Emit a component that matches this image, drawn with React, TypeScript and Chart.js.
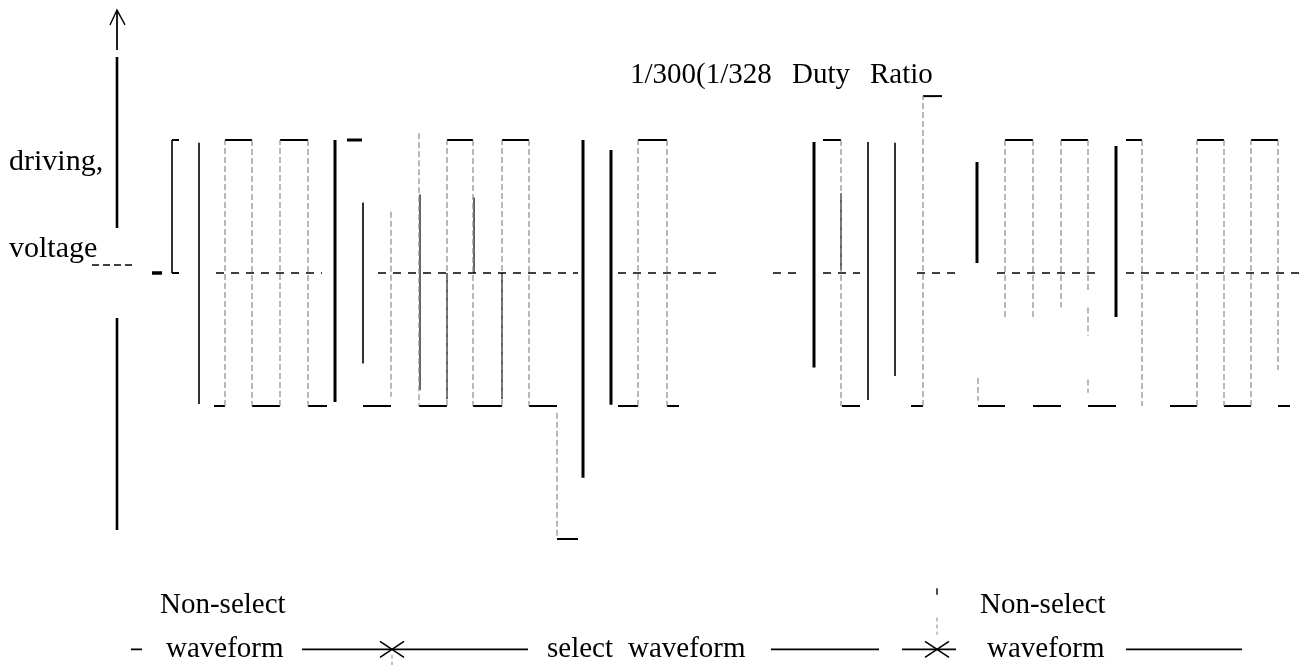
import { useEffect, useRef } from "react";
import { Chart, registerables } from "chart.js";

Chart.register(...registerables);

// ---- frame ----
const WIDTH = 1310;
const HEIGHT = 665;
const T_MIN = 0;
const T_MAX = 1310;
// voltage unit: 0 V line sits 273px from top, 133px per unit
const V_MAX = 273 / 133;
const V_MIN = (273 - 665) / 133;

// ---- voltage levels ----
const HIGH = 1;
const ZERO = 0;
const LOW = -1;
const SEL_HIGH = 1.33;
const SEL_LOW = -2;
const ANNOT = -2.83;

// ---- waveform runs (time from, time to) ----
const highRuns = [[225, 252], [280, 308], [447, 473], [502, 529], [638, 667], [823, 841], [1005, 1033], [1061, 1088], [1126, 1142], [1197, 1224], [1251, 1278]];
const lowRuns = [[214, 225], [252, 280], [308, 327], [363, 391], [419, 447], [473, 502], [529, 557], [618, 638], [667, 679], [842, 860], [911, 923], [978, 1005], [1033, 1061], [1088, 1116], [1170, 1197], [1224, 1251], [1278, 1290]];
const selHighRuns = [[923, 942]];
const selLowRuns = [[557, 578]];
const topMarks = [[347, 362]];
const bracketSerifs = [[172, 179, HIGH], [172, 179, ZERO]];
const zeroDashRuns = [[216, 322], [378, 578], [618, 722], [773, 798], [823, 860], [917, 957], [997, 1102], [1126, 1305]];
const legendDashRuns = [[92, 133, 0.06]];
const dotMarks = [[152, 162]];

// ---- vertical edges (time, from V, to V) ----
const greyEdges = [
  [225, LOW, HIGH], [252, HIGH, LOW], [280, LOW, HIGH], [308, HIGH, LOW],
  [391, 0.46, -0.93], [419, 1.05, LOW], [447, LOW, HIGH], [473, HIGH, LOW], [502, LOW, HIGH], [529, HIGH, LOW], [557, -1.05, SEL_LOW],
  [638, LOW, HIGH], [667, HIGH, LOW], [841, HIGH, LOW], [923, LOW, SEL_HIGH], [978, -0.79, -0.96],
  [1005, HIGH, -0.34], [1033, HIGH, -0.34], [1061, HIGH, -0.26], [1088, HIGH, -0.15], [1088, -0.26, -0.47], [1088, -0.8, -0.9],
  [1142, HIGH, LOW], [1197, LOW, HIGH], [1224, HIGH, LOW], [1251, LOW, HIGH], [1278, HIGH, -0.73],
];
const darkEdges = [[420, 0.59, -0.88], [474, 0.57, 0], [447, 0, -0.95], [502, 0, -0.95], [841, 0.6, 0.02]];
const thickBars = [[335, 1, -0.97], [583, 1, -1.54], [611, 0.925, -0.99], [814, 0.985, -0.71], [977, 0.835, 0.075], [1116, 0.955, -0.33]];
const thinBars = [[172, 1, 0], [199, 0.98, -0.985], [363, 0.53, -0.68], [868, 0.985, -0.955], [895, 0.98, -0.775]];

// ---- vertical axis ----
const axisT = 117;
const axisThick = [[1.624, 0.338], [-0.338, -1.932]];
const axisThin = [[1.977, 1.677]];
const arrowHead = [[110, 1.865], [117, 1.977], [125, 1.865]];

// ---- bottom annotation ----
const annotRuns = [[131, 142], [302, 528], [771, 879], [902, 956], [1126, 1242]];
const crossCentres = [392, 937];
const annotTicks = [[937, -2.37, -2.42, "#000"], [937, -2.59, -2.72, "#999"], [392, -2.87, -2.95, "#999"]];

// ---- text labels (text, time, V, size) ----
const labels: [string, number, number, number][] = [
  ["1/300(1/328", 630, 1.43, 29],
  ["Duty", 792, 1.43, 29],
  ["Ratio", 870, 1.43, 29],
  ["driving,", 9, 0.774, 30],
  ["voltage", 9, 0.12, 30],
  ["Non-select", 160, -2.556, 29],
  ["waveform", 166, -2.887, 29],
  ["select", 547, -2.887, 29],
  ["waveform", 628, -2.887, 29],
  ["Non-select", 980, -2.556, 29],
  ["waveform", 987, -2.887, 29],
];

type P = { x: number; y: number | null };

function runsAt(runs: number[][], level: number): P[] {
  const out: P[] = [];
  for (const [a, b] of runs) {
    out.push({ x: a, y: level }, { x: b, y: level }, { x: b, y: null });
  }
  return out;
}
function runsOwnLevel(runs: number[][]): P[] {
  const out: P[] = [];
  for (const [a, b, l] of runs) {
    out.push({ x: a, y: l }, { x: b, y: l }, { x: b, y: null });
  }
  return out;
}
function verticals(list: (number | string)[][]): P[] {
  const out: P[] = [];
  for (const [t, a, b] of list) {
    out.push({ x: t as number, y: a as number }, { x: t as number, y: b as number }, { x: t as number, y: null });
  }
  return out;
}
function crosses(centres: number[]): P[] {
  const out: P[] = [];
  for (const c of centres) {
    out.push({ x: c - 12, y: ANNOT + 0.06 }, { x: c + 12, y: ANNOT - 0.06 }, { x: c, y: null });
    out.push({ x: c - 12, y: ANNOT - 0.06 }, { x: c + 12, y: ANNOT + 0.06 }, { x: c, y: null });
  }
  return out;
}

function ds(data: P[], color: string, width: number, dash: number[] = []) {
  return {
    data,
    showLine: true,
    borderColor: color,
    backgroundColor: color,
    borderWidth: width,
    borderDash: dash,
    pointRadius: 0,
    pointHoverRadius: 0,
    spanGaps: false,
    tension: 0,
    fill: false,
    borderCapStyle: "butt" as const,
  };
}

const textPlugin = {
  id: "figureTexts",
  afterDraw(chart: any) {
    const { ctx } = chart;
    const xs = chart.scales.x;
    const ys = chart.scales.y;
    ctx.save();
    ctx.fillStyle = "#000";
    ctx.textBaseline = "alphabetic";
    ctx.textAlign = "left";
    for (const [t, tx, ty, size] of labels) {
      ctx.font = `${size}px "Liberation Serif", "Times New Roman", serif`;
      ctx.fillText(t, xs.getPixelForValue(tx), ys.getPixelForValue(ty));
    }
    ctx.restore();
  },
};

export default function App() {
  const ref = useRef<HTMLCanvasElement | null>(null);
  useEffect(() => {
    if (!ref.current) return;
    const annotTickData: P[] = [];
    const chart = new Chart(ref.current, {
      type: "scatter",
      data: {
        datasets: [
          ds(greyEdges.length ? verticals(greyEdges) : [], "#8a8a8a", 1.2, [6, 3]),
          ds(verticals(annotTicks.filter((a) => a[3] === "#999")), "#999", 1.2, [4, 3]),
          ds(zeroDashRuns.length ? runsAt(zeroDashRuns, ZERO) : [], "#000", 1.6, [8, 7]),
          ds(runsOwnLevel(legendDashRuns), "#000", 1.4, [7, 4]),
          ds(runsAt(dotMarks, ZERO), "#000", 3.5),
          ds(runsAt(highRuns, HIGH), "#000", 2),
          ds(runsAt(lowRuns, LOW), "#000", 2),
          ds(runsAt(selHighRuns, SEL_HIGH), "#000", 2),
          ds(runsAt(selLowRuns, SEL_LOW), "#000", 2),
          ds(runsAt(topMarks, HIGH), "#000", 3),
          ds(runsOwnLevel(bracketSerifs), "#000", 2),
          ds(verticals(darkEdges), "#222", 1.4),
          ds(verticals(thickBars), "#000", 3),
          ds(verticals(thinBars), "#000", 1.6),
          ds(verticals(axisThick.map(([a, b]) => [axisT, a, b])), "#000", 2.6),
          ds(verticals(axisThin.map(([a, b]) => [axisT, a, b])), "#000", 1),
          ds(arrowHead.map(([x, y]) => ({ x, y })), "#000", 1.4),
          ds(runsAt(annotRuns, ANNOT), "#000", 1.8),
          ds(crosses(crossCentres), "#000", 1.6),
          ds(verticals(annotTicks.filter((a) => a[3] === "#000")).concat(annotTickData), "#000", 1.4),
        ],
      },
      options: {
        animation: false,
        responsive: false,
        events: [],
        layout: { padding: 0 },
        plugins: { legend: { display: false }, tooltip: { enabled: false }, title: { display: false } },
        scales: {
          x: { type: "linear", min: T_MIN, max: T_MAX, display: false },
          y: { type: "linear", min: V_MIN, max: V_MAX, display: false },
        },
      },
      plugins: [textPlugin],
    });
    return () => chart.destroy();
  }, []);
  return (
    <div style={{ position: "fixed", left: 0, top: 0, width: WIDTH, height: HEIGHT, background: "#fff" }}>
      <canvas ref={ref} width={WIDTH} height={HEIGHT} style={{ display: "block" }} />
    </div>
  );
}
